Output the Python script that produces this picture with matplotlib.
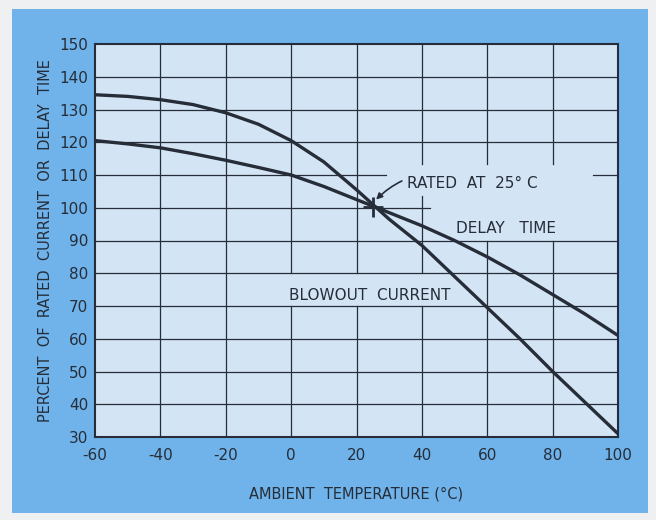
import numpy as np
import matplotlib.pyplot as plt
from matplotlib.patches import Rectangle

temp = [-60, -50, -40, -30, -20, -10, 0, 10, 20, 30, 40, 50, 60, 70, 80, 90, 100]
blowout = [134.5, 134, 133, 131.5, 129, 125.5, 120.5, 114, 105.5, 96.5, 88.5, 79, 69.5, 60, 50, 40.5, 31]
delay = [120.5, 119.5, 118.3, 116.5, 114.5, 112.3, 110, 106.5, 102.5, 98.5, 94.5, 90, 85, 79.5, 73.5, 67.5, 61]

xticks = [-60, -40, -20, 0, 20, 40, 60, 80, 100]
xticklabels = ['-60', '-40', '-20', '0', '20', '40', '60', '80', '100']
yticks = [30, 40, 50, 60, 70, 80, 90, 100, 110, 120, 130, 140, 150]

ink = '#262d38'
outer = '#6fb3ea'
inner = '#d3e5f5'

plt.rcParams['font.family'] = ['DejaVu Sans']

fig = plt.figure(figsize=(6.56, 5.2), dpi=100)
fig.patch.set_facecolor('#eef0f2')
bg = Rectangle((12/656, 1-513/520), 636/656, 504/520,
               transform=fig.transFigure, facecolor=outer,
               edgecolor='none', zorder=-10)
fig.add_artist(bg)

ax = fig.add_axes([95/656, 1-437/520, 523/656, 393/520])
ax.set_zorder(1)
ax.set_facecolor(inner)

# grid, broken where the labels sit
vsegs = [(-40, 30, 150), (-20, 30, 150),
         (0, 30, 70), (0, 80, 150), (20, 30, 70), (20, 80, 150),
         (40, 30, 70), (40, 80, 103.5), (40, 113.3, 150),
         (60, 30, 90), (60, 113.3, 150), (80, 30, 90), (80, 113.3, 150)]
for x, y0, y1 in vsegs:
    ax.plot([x, x], [y0, y1], color=ink, lw=0.9, zorder=1)
hsegs = [(40, -60, 100), (50, -60, 100), (60, -60, 100), (70, -60, 100),
         (80, -60, 100), (90, -60, 100), (100, -60, 42.4),
         (110, -60, 29), (110, 92.3, 100),
         (120, -60, 100), (130, -60, 100), (140, -60, 100)]
for y, x0, x1 in hsegs:
    ax.plot([x0, x1], [y, y], color=ink, lw=0.9, zorder=1)

ax.plot(temp, blowout, color=ink, lw=2.4, solid_capstyle='butt', zorder=3)
ax.plot(temp, delay, color=ink, lw=2.4, solid_capstyle='butt', zorder=3)
ax.plot([25], [100.3], marker='+', ms=14, mew=2, color=ink, zorder=4)

ax.annotate('RATED  AT  25° C', xy=(26, 102.5), xytext=(35.5, 107.4),
            fontsize=11, color=ink, va='center', ha='left',
            arrowprops=dict(arrowstyle='-|>', color=ink, lw=1.2,
                            connectionstyle='arc3,rad=0.35',
                            shrinkA=2, shrinkB=0, mutation_scale=9))
ax.text(50.5, 93.6, 'DELAY   TIME', fontsize=11, color=ink, va='center', ha='left')
ax.text(-0.5, 73.3, 'BLOWOUT  CURRENT', fontsize=11, color=ink, va='center', ha='left')

ax.set_xlim(-60, 100)
ax.set_ylim(30, 150)
ax.set_xticks(xticks)
ax.set_xticklabels(xticklabels)
ax.set_yticks(yticks)
ax.tick_params(length=0, colors=ink, labelsize=11)
ax.tick_params(axis='x', pad=8)
ax.tick_params(axis='y', pad=5)
for s in ax.spines.values():
    s.set_color(ink)
    s.set_linewidth(1.5)

ax.set_xlabel('AMBIENT  TEMPERATURE (°C)', fontsize=10.5, color=ink, labelpad=17)
ax.set_ylabel('PERCENT  OF  RATED  CURRENT  OR  DELAY  TIME', fontsize=10.5,
              color=ink, labelpad=4)

fig.savefig('out.png', dpi=100, facecolor=fig.get_facecolor())
